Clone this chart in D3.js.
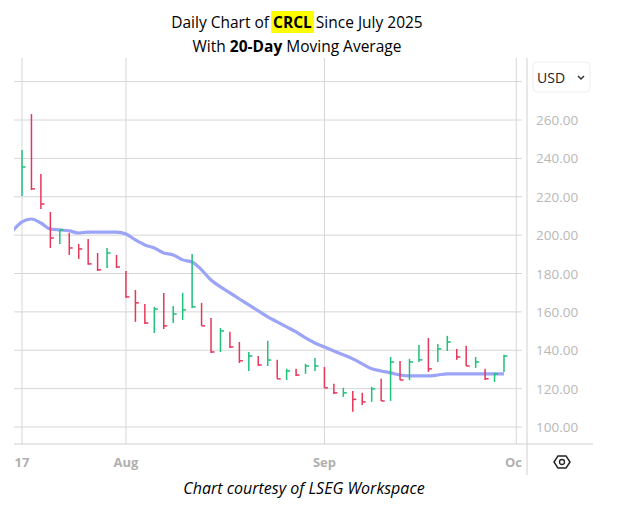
<!DOCTYPE html>
<html><head><meta charset="utf-8">
<script src="https://cdn.jsdelivr.net/npm/d3@7"></script>
<style>body{margin:0;background:#fff;font-family:"Open Sans",sans-serif}</style>
</head><body><svg id="c" width="627" height="519"></svg>
<script>
const highs=[244.4,263.1,231.9,212.1,202.7,201.1,195.4,198.0,190.7,193.3,189.7,
181.3,171.4,164.1,162.6,169.9,163.1,169.9,190.2,164.7,156.8,151.6,149.6,144.3,139.1,137.0,144.9,135.0,130.3,130.3,132.9,136.0,
131.3,122.5,120.4,118.8,117.8,120.9,125.1,136.5,134.4,135.5,142.8,146.4,143.3,147.5,140.7,142.3,136.5,130.3,128.2,137.6];
const lows=[220.4,223.5,213.6,193.3,195.4,189.7,187.6,184.5,181.3,182.9,182.9,
167.3,154.8,153.7,149.0,151.1,154.2,155.8,162.0,152.7,138.6,139.1,141.2,133.4,129.2,131.8,131.8,125.1,124.5,126.6,127.7,129.2,
120.4,117.2,115.7,107.9,111.5,113.1,113.6,113.6,124.5,124.5,133.9,128.7,133.9,139.6,135.0,131.8,130.8,124.5,123.5,128.7];
const closes=[235.5,224.1,216.2,198.5,202.7,193.3,192.8,185.0,181.9,190.7,183.4,
167.8,164.7,154.2,161.5,152.7,158.9,161.0,162.6,152.7,139.1,150.1,141.7,134.5,137.0,132.3,134.9,125.1,129.2,127.1,131.8,131.8,
120.4,117.8,117.8,114.4,113.1,119.9,113.6,133.9,124.5,133.9,135.0,130.3,140.7,144.3,136.5,131.8,133.9,125.1,127.7,137.0];
const ma20=[202.2,206.9,208.4,206.3,203.2,202.7,202.2,201.1,201.6,201.6,201.6,201.6,200.6,197.5,194.9,193.3,190.7,189.7,187.1,186.0,181.9,
176.6,173.0,169.9,166.7,163.6,160.5,157.4,154.8,152.2,149.6,146.4,143.8,141.7,139.6,137.6,135.5,132.9,130.3,129.2,128.2,127.1,126.6,126.6,126.6,
127.1,127.7,127.7,127.7,127.7,127.7,127.7,127.7]; // starts at index -1
const xTickLabels=["17","Aug","Sep","Oct"];
const xTickIdx=[0,11,32,52.3];
const yTicks=[100,120,140,160,180,200,220,240,260,280];

const svg=d3.select("#c");
const L=14,R=522,T=58,B=444;
const x=d3.scaleLinear().domain([0,51]).range([22,504]);
const y=d3.scaleLinear().domain([100,260]).range([427,120]);

svg.append("defs").append("clipPath").attr("id","cp").append("rect").attr("x",L).attr("y",T).attr("width",R-L).attr("height",B-T);

svg.selectAll(".hg").data(yTicks).join("line").attr("x1",L).attr("x2",R).attr("y1",d=>y(d)).attr("y2",d=>y(d)).attr("stroke","#d6d6d6");
svg.selectAll(".vg").data(xTickIdx).join("line").attr("x1",d=>x(d)).attr("x2",d=>x(d)).attr("y1",T).attr("y2",B).attr("stroke","#d6d6d6").attr("clip-path","url(#cp)");
svg.append("line").attr("x1",527).attr("x2",527).attr("y1",T).attr("y2",475).attr("stroke","#d0d0d0");
svg.append("line").attr("x1",L).attr("x2",593).attr("y1",B).attr("y2",B).attr("stroke","#d0d0d0");

svg.selectAll(".yl").data(yTicks.filter(d=>d<=260)).join("text").attr("x",536).attr("y",d=>y(d)+5)
 .attr("font-size",13.5).attr("fill","#b8b8b8").text(d=>d.toFixed(2));
svg.select("defs").append("clipPath").attr("id","xcp").append("rect").attr("x",0).attr("y",448).attr("width",R).attr("height",30);
const xl=svg.append("g").attr("clip-path","url(#xcp)");
xl.selectAll("text").data(xTickLabels).join("text").attr("x",(d,i)=>x(xTickIdx[i])).attr("y",467)
 .attr("text-anchor","middle").attr("font-size",13).attr("font-weight","bold").attr("fill","#b0b0b0").text(d=>d);

const g=svg.append("g").attr("clip-path","url(#cp)");
g.append("path").datum(ma20).attr("fill","none").attr("stroke","#9ba4f6").attr("stroke-width",3.2)
 .attr("d",d3.line().x((d,i)=>x(i-1)).y(d=>y(d)).curve(d3.curveMonotoneX));

const up=(i)=>i==0?true:closes[i]>=closes[i-1];
const bars=g.selectAll(".b").data(highs).join("g").attr("stroke",(d,i)=>up(i)?"#1fc07a":"#e8365a").attr("stroke-width",1.5);
bars.append("line").attr("x1",(d,i)=>x(i)).attr("x2",(d,i)=>x(i)).attr("y1",d=>y(d)).attr("y2",(d,i)=>y(lows[i]));
bars.append("line").attr("x1",(d,i)=>x(i)).attr("x2",(d,i)=>x(i)+3.5).attr("y1",(d,i)=>y(closes[i])).attr("y2",(d,i)=>y(closes[i]));

const t1=svg.append("text").attr("x",297).attr("y",28).attr("text-anchor","middle").attr("font-size",15.5);
t1.append("tspan").text("Daily Chart of ");
t1.append("tspan").attr("id","crcl").attr("font-weight","bold").text("CRCL");
t1.append("tspan").text(" Since July 2025");
const bb=document.getElementById("crcl").getBBox();
svg.insert("rect","text").attr("x",bb.x-2).attr("y",bb.y).attr("width",bb.width+4).attr("height",bb.height).attr("fill","#ffff00");
const t2=svg.append("text").attr("x",297).attr("y",52).attr("text-anchor","middle").attr("font-size",15.5);
t2.append("tspan").text("With ");t2.append("tspan").attr("font-weight","bold").text("20-Day");t2.append("tspan").text(" Moving Average");

svg.append("rect").attr("x",533).attr("y",62).attr("width",57).attr("height",30).attr("rx",4).attr("fill","#fff").attr("stroke","#eeeeee");
svg.append("text").attr("x",537).attr("y",83).attr("font-size",14).attr("fill","#222").text("USD");
svg.append("path").attr("d","M578,76 l3,3 l3,-3").attr("fill","none").attr("stroke","#333").attr("stroke-width",1.5);
const hx=562,hy=462;
svg.append("path").attr("d",d3.range(6).map((k,i)=>(i?"L":"M")+(hx+8*Math.cos(Math.PI/3*k))+","+(hy+7*Math.sin(Math.PI/3*k))).join("")+"Z")
 .attr("fill","none").attr("stroke","#222").attr("stroke-width",1.5);
svg.append("circle").attr("cx",hx).attr("cy",hy).attr("r",2.5).attr("fill","none").attr("stroke","#222").attr("stroke-width",1.3);

svg.append("text").attr("x",304).attr("y",494).attr("text-anchor","middle").attr("font-size",16).attr("font-style","italic").text("Chart courtesy of LSEG Workspace");
</script></body></html>
